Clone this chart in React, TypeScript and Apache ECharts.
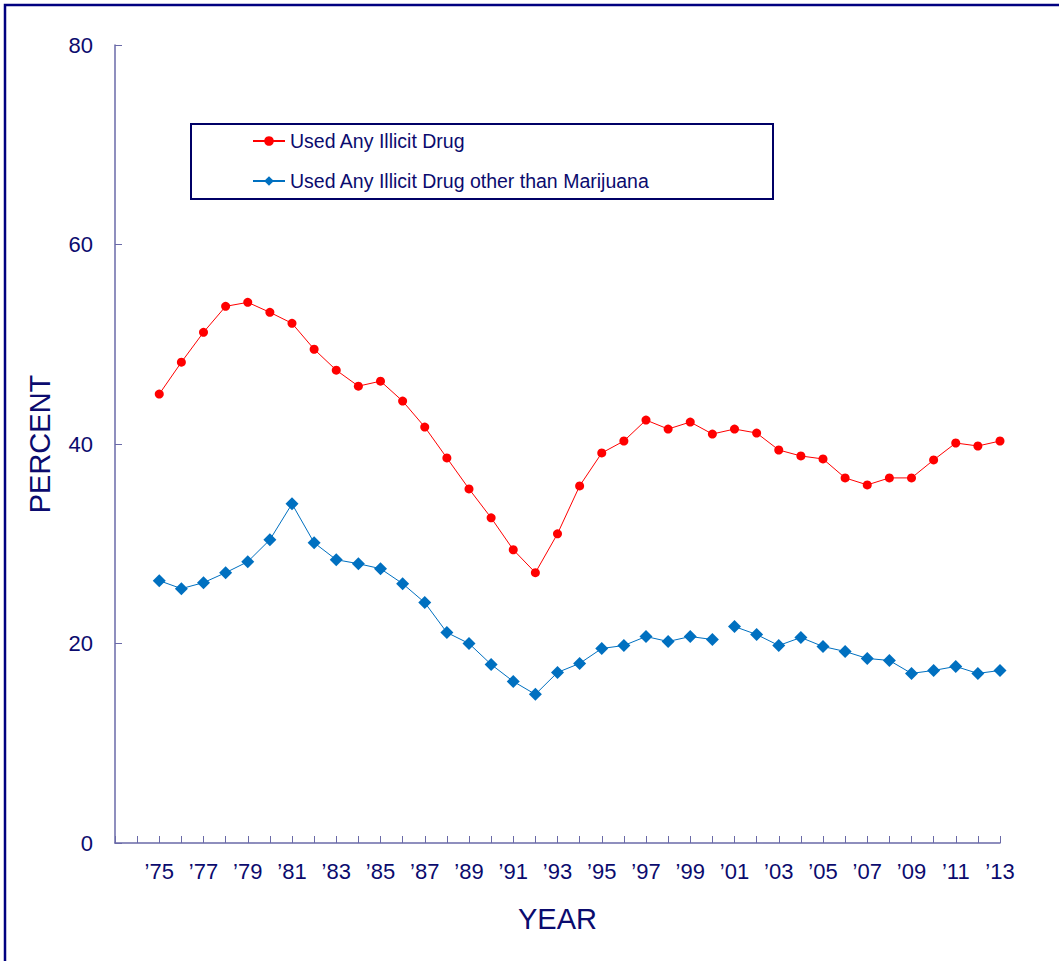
import React, { useEffect, useRef } from "react";
import * as echarts from "echarts";

const years = [1975,1976,1977,1978,1979,1980,1981,1982,1983,1984,1985,1986,1987,1988,1989,1990,1991,1992,1993,1994,1995,1996,1997,1998,1999,2000,2001,2002,2003,2004,2005,2006,2007,2008,2009,2010,2011,2012,2013];
const anyIllicit = [45.0,48.2,51.2,53.8,54.2,53.2,52.1,49.5,47.4,45.8,46.3,44.3,41.7,38.6,35.5,32.6,29.4,27.1,31.0,35.8,39.1,40.3,42.4,41.5,42.2,41.0,41.5,41.1,39.4,38.8,38.5,36.6,35.9,36.6,36.6,38.4,40.1,39.8,40.3];
const otherThanMj = [26.3,25.5,26.1,27.1,28.2,30.4,34.0,30.1,28.4,28.0,27.5,26.0,24.1,21.1,20.0,17.9,16.2,14.9,17.1,18.0,19.5,19.8,20.7,20.2,20.7,20.4,21.7,20.9,19.8,20.6,19.7,19.2,18.5,18.3,17.0,17.3,17.7,17.0,17.3];
const breakYear = 2001; // the second series restarts here (line not joined)
const yTicks = [0, 20, 40, 60, 80];

const NAVY = "#0b0b6e";
const AXIS = "#6a6aa8";
const FONT = "Liberation Sans, Arial, sans-serif";

export default function App() {
  const ref = useRef<HTMLDivElement>(null);
  useEffect(() => {
    const chart = echarts.init(ref.current!, null, { renderer: "svg" });
    const red = years.map((y, i) => [y, anyIllicit[i]]);
    const blueA = years.map((y, i) => [y, otherThanMj[i]]).filter((d) => d[0] < breakYear);
    const blueB = years.map((y, i) => [y, otherThanMj[i]]).filter((d) => d[0] >= breakYear);
    const blueStyle = {
      type: "line",
      name: "Used Any Illicit Drug other than Marijuana",
      symbol: "diamond",
      symbolSize: 13,
      itemStyle: { color: "#0070c0" },
      lineStyle: { color: "#0070c0", width: 1 },
    };
    chart.setOption({
      animation: false,
      textStyle: { fontFamily: FONT },
      grid: { left: 115, right: 59, top: 45, bottom: 118, containLabel: false },
      graphic: [
        { type: "rect", shape: { x: 5, y: 5, width: 1100, height: 1000 }, style: { fill: "none", stroke: "#000080", lineWidth: 2.5 }, z: 100 },
        { type: "rect", shape: { x: 191, y: 124, width: 582, height: 75 }, style: { fill: "none", stroke: "#000066", lineWidth: 2 }, z: 100 },
      ],
      legend: {
        orient: "vertical",
        left: 247,
        top: 126,
        itemWidth: 32,
        itemHeight: 12,
        itemGap: 20,
        data: ["Used Any Illicit Drug", "Used Any Illicit Drug other than Marijuana"],
        textStyle: { color: NAVY, fontSize: 19.5, fontFamily: FONT },
      },
      xAxis: {
        type: "value",
        min: 1973,
        max: 2013,
        interval: 1,
        name: "YEAR",
        nameLocation: "middle",
        nameGap: 61,
        nameTextStyle: { color: NAVY, fontSize: 29, fontFamily: FONT },
        axisLine: { lineStyle: { color: AXIS, width: 1.5 } },
        axisTick: { inside: true, length: 7, lineStyle: { color: AXIS } },
        splitLine: { show: false },
        axisLabel: {
          color: NAVY,
          fontSize: 22,
          margin: 17,
          fontFamily: FONT,
          formatter: (v: number) => (v >= 1975 && v % 2 === 1 ? "\u2019" + String(v).slice(2) : ""),
        },
      },
      yAxis: {
        type: "value",
        min: 0,
        max: 80,
        interval: 20,
        name: "PERCENT",
        nameLocation: "middle",
        nameGap: 61,
        nameRotate: 90,
        nameTextStyle: { color: NAVY, fontSize: 29, fontFamily: FONT },
        axisLine: { show: true, lineStyle: { color: AXIS, width: 1.5 } },
        axisTick: { show: true, inside: true, length: 7, lineStyle: { color: AXIS } },
        splitLine: { show: false },
        axisLabel: {
          color: NAVY,
          fontSize: 22,
          margin: 22,
          fontFamily: FONT,
          formatter: (v: number) => (yTicks.includes(v) ? String(v) : ""),
        },
      },
      series: [
        {
          type: "line",
          name: "Used Any Illicit Drug",
          data: red,
          symbol: "circle",
          symbolSize: 9,
          itemStyle: { color: "#ff0000" },
          lineStyle: { color: "#ff0000", width: 1 },
        },
        { ...blueStyle, data: blueA },
        { ...blueStyle, data: blueB },
      ],
    });
    return () => chart.dispose();
  }, []);
  return <div ref={ref} style={{ position: "absolute", left: 0, top: 0, width: 1059, height: 961 }} />;
}
